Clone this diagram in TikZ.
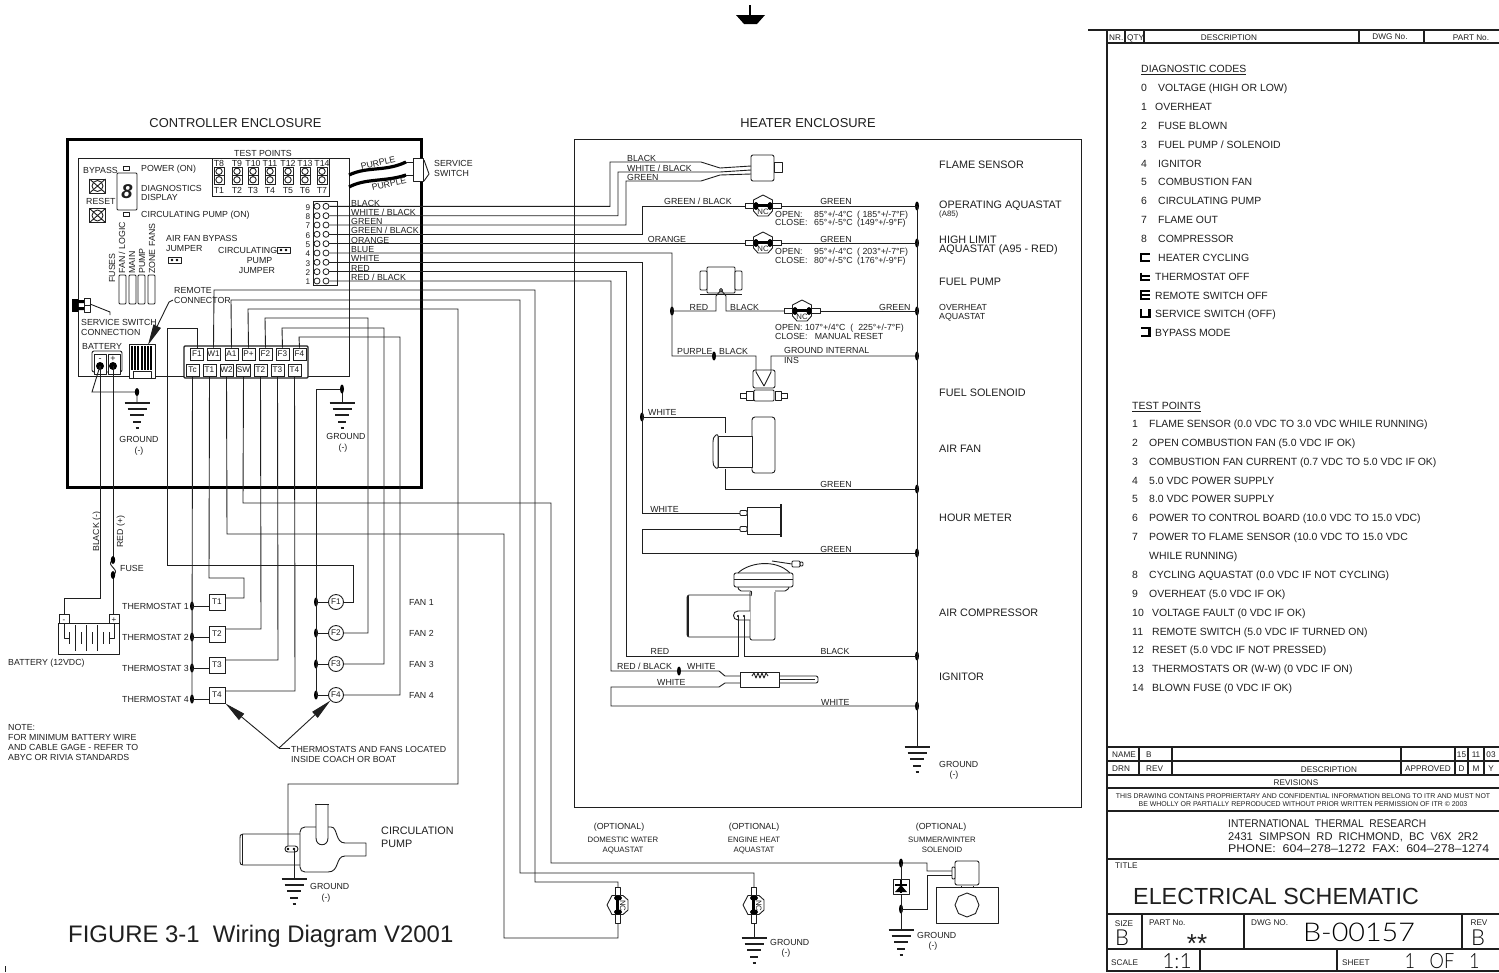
\documentclass[tikz,border=0pt]{standalone}
\usepackage{fontspec}
\setmainfont{Liberation Sans}
\newfontfamily\thinf{Lato Light}
\usetikzlibrary{arrows.meta,calc}
\definecolor{ink}{gray}{0.12}
\newcounter{tn}
\newcommand{\fs}[1]{\fontsize{#1}{#1}\selectfont}
\tikzset{
  wire/.style={draw=ink,line width=0.9pt,line join=miter},
  part/.style={draw=ink,line width=0.9pt,line join=round},
  thick wall/.style={draw=black,line width=3pt},
  rule/.style={draw=ink,line width=1.1pt},
  txt/.style={anchor=west,inner sep=0pt,text=ink,font=\fs{8.8},text height=6.3pt,text depth=0pt,yshift=-0.8pt},
  sm/.style={txt,font=\fs{7.8},text height=5.6pt},
  big/.style={txt,font=\fs{10.8},text height=7.8pt},
  lst/.style={txt,font=\fs{10.45},text height=7.6pt},
  cc/.style={txt,anchor=center},
  ccsm/.style={sm,anchor=center},
  cad/.style={txt,font=\fs{8.2},text height=5.9pt},
  ccad/.style={cad,anchor=center},
  thn/.style={txt,anchor=center,text=black},
  tbox/.style={draw=ink,line width=0.9pt,fill=white,minimum width=13pt,minimum height=12pt,inner sep=0pt,font=\fs{8.2},text=ink},
  tstat/.style={tbox,minimum width=16pt,minimum height=16pt},
  fcirc/.style={draw=ink,line width=0.9pt,fill=white,circle,minimum size=15pt,inner sep=0pt,font=\fs{8.2},text=ink},
  pinc/.style={draw=ink,line width=0.8pt,fill=white,circle,minimum size=6pt,inner sep=0pt},
  bigtip/.style={-{Triangle[length=21pt,width=8pt]}},
}
\newcommand{\Tx}[4][txt]{\stepcounter{tn}\node[#1] (t\arabic{tn}) at (#2,#3) {#4};}
\newcommand{\jn}[3]{\coordinate (#1) at (#2,#3);\fill[black] (#1) ellipse [x radius=2pt,y radius=4.5pt];}
\newcommand{\gnd}[2]{\begin{scope}[shift={(#1,#2)}]
  \draw[rule] (-12.5,0)--(12.5,0) (-9.5,6)--(9.5,6) (-7,12)--(7,12) (-4,19)--(4,19) (-1.5,25)--(1.5,25);\end{scope}}
\newcommand{\aquastat}[5]{\begin{scope}[shift={(#1,#2)},rotate=#3]
  \draw[part,fill=white] (0,-11)--(9.5,-6)--(9.5,5)--(5,10)--(-5,10)--(-9.5,5)--(-9.5,-6)--cycle;
  \draw[part,fill=white] (-18,-2.5) rectangle (-9.5,2.5);
  \draw[part,fill=white] (9.5,-2.5) rectangle (18,2.5);
  \draw[line width=2.6pt,black] (-7,-0.5)--(7,-0.5);
  \fill[black] (-7,0) ellipse [x radius=2.6pt,y radius=4pt];
  \fill[black] (7,0) ellipse [x radius=2.6pt,y radius=4pt];
  \stepcounter{tn}\node[sm,anchor=center,rotate=#4,yshift=0pt] (t\arabic{tn}) at (0,#5) {NC};
\end{scope}}
\newcommand{\cellx}[2]{\draw[part] (#1-8,#2-7) rectangle (#1+8,#2+7);\draw[part] (#1-8,#2-7)--(#1+8,#2+7) (#1-8,#2+7)--(#1+8,#2-7);\draw[part] (#1,#2) circle (5.5pt);}
\newcommand{\seg}[1]{\draw[black,line width=2.2pt,line cap=butt] #1;}
\begin{document}
\begin{tikzpicture}[x=1pt,y=-1pt]
\useasboundingbox (0,0) rectangle (1499,972);
\fill[white] (0,0) rectangle (1499,972);

% ---- top symbol
\draw[line width=2.5pt,black] (750,5)--(750,15);
\fill[black] (736,15)--(765,15)--(757,24)--(744,24)--cycle;
\draw[line width=0.8pt,ink] (5,966)--(5,972);

% ---- headings
\Tx[big,font=\fs{12.9},text height=9.3pt,anchor=center]{235.5}{122}{CONTROLLER ENCLOSURE}
\Tx[big,font=\fs{12.9},text height=9.3pt,anchor=center]{808}{122}{HEATER ENCLOSURE}

% ---- enclosures
\draw[thick wall] (67,139) rectangle (421,487);
\draw[wire] (574,139) rectangle (1081,807);
\draw[wire] (184,376)--(78,376)--(78,158)--(349,158)--(349,376)--(308,376);

% ---- test points
\Tx[cc]{263}{153}{TEST POINTS}
\draw[wire,fill=white] (212,158) rectangle (329,196);
\foreach \tx/\nu/\nl in {219/T8/T1,237/T9/T2,253/T10/T3,270/T11/T4,288/T12/T5,305/T13/T6,322/T14/T7}{
  \node[cc] (tp\nu) at (\tx,163) {\nu};
  \node[cc] (tp\nl) at (\tx,190) {\nl};
  \draw[part] (\tx-5,167) rectangle (\tx+5,184) (\tx-5,175.5)--(\tx+5,175.5);
  \draw[part] (\tx,171.3) circle (3.2pt) (\tx,179.8) circle (3.2pt);
}

% ---- board left
\Tx{83}{170}{BYPASS}
\draw[part] (123,166) rectangle (129,170);
\Tx{141}{168}{POWER (ON)}
\cellx{97.5}{186}
\Tx{86}{201}{RESET}
\cellx{97.5}{215.5}
\draw[part,rounded corners=1pt] (117,173) rectangle (137,210);
\Tx[txt,font=\fs{20}\bfseries\itshape,anchor=center,text height=14pt]{127}{191}{8}
\draw[part] (123,212) rectangle (129,216);
\Tx{141}{187.5}{DIAGNOSTICS}
\Tx{141}{196.5}{DISPLAY}
\Tx{141}{214}{CIRCULATING PUMP (ON)}
\Tx[txt,rotate=90,anchor=west]{112}{282}{FUSES}
\Tx[txt,rotate=90,anchor=west]{122}{273}{FAN / LOGIC}
\Tx[txt,rotate=90,anchor=west]{132}{273}{MAIN}
\Tx[txt,rotate=90,anchor=west]{142}{273}{PUMP}
\Tx[txt,rotate=90,anchor=west]{152}{273}{ZONE FANS}
\foreach \fx in {119,129,138,148}{\draw[part,rounded corners=1pt] (\fx,275) rectangle (\fx+7,304);}
\Tx{166}{238}{AIR FAN BYPASS}
\Tx{166}{248}{JUMPER}
\draw[part] (168,257) rectangle (181,263);
\fill[black] (172,260) circle (1.3pt) (177,260) circle (1.3pt);
\Tx{218}{250}{CIRCULATING}
\draw[part] (277,247) rectangle (290,253);
\fill[black] (281,250) circle (1.3pt) (286,250) circle (1.3pt);
\Tx[cc]{259.5}{260}{PUMP}
\Tx[cc]{257}{270}{JUMPER}
\Tx{174}{290}{REMOTE}
\Tx{174}{300}{CONNECTOR}

% ---- pin block and wires out
\draw[wire] (313,201) rectangle (337,285);
\foreach \n/\py/\ly/\lab in {9/206.3/202.5/{BLACK},8/215.7/212/{WHITE / BLACK},7/225/221/{GREEN},6/234.3/230/{GREEN / BLACK},5/243.7/239.5/{ORANGE},4/253/249/{BLUE},3/262.3/258/{WHITE},2/271.7/267.5/{RED},1/281/276.5/{RED / BLACK}}{
  \node[cc,font=\fs{8.2}] (pn\n) at (308,\py) {\n};
  \node[pinc] (pa\n) at (317,\py) {};
  \node[pinc] (p\n) at (326,\py) {};
  \node[txt] (pl\n) at (351,\ly) {\lab};
}

% flame sensor
\draw[part,rounded corners=2pt,fill=white] (751,155) rectangle (774,181);
\draw[part] (774,162) rectangle (782,172);
\coordinate (fsA) at (751,166);\coordinate (fsB) at (751,170);\coordinate (fsC) at (751,174);
\draw[wire] (p9)--(610,206.3)--(610,162)--(701,162)--(720,168)--(fsA);
\draw[wire] (p8)--(618,215.7)--(618,172)--(720,172)--(fsB);
\draw[wire] (p7)--(626,225)--(626,181)--(701,181)--(720,175)--(fsC);
\Tx{627}{158}{BLACK}
\Tx{627}{168}{WHITE / BLACK}
\Tx{627}{177}{GREEN}

% bus
\coordinate (gndR) at (917,747);
\jn{b1}{917}{206}\jn{b2}{917}{243}\jn{b3}{917}{311}\jn{b4}{917}{356}\jn{b5}{917}{489}\jn{b6}{917}{553}\jn{b7}{917}{656}\jn{b8}{917}{706}
\draw[wire] (b1)--(gndR);
\gnd{917}{747}
\Tx{939}{764}{GROUND}
\Tx[cc]{954}{774}{(-)}

% aquastats
\coordinate (aq1) at (763,206);\coordinate (aq2) at (763,243);\coordinate (aq3) at (802,311);
\draw[wire] (p6)--(642,234.3)--(642,206)--(745,206);
\draw[wire] (781,206)--(b1);
\draw[wire] (p5)--(745,243.7);
\draw[wire] (781,243)--(b2);
\aquastat{763}{206}{0}{0}{5}
\aquastat{763}{243}{0}{0}{5}
\Tx{664}{201}{GREEN / BLACK}
\Tx[cc]{836}{201}{GREEN}
\Tx[cc]{667}{239}{ORANGE}
\Tx[cc]{836}{239}{GREEN}
\Tx{775}{214}{OPEN:}\Tx{814}{214}{85°+/-4°C}\Tx{857}{214}{( 185°+/-7°F)}
\Tx{775}{222}{CLOSE:}\Tx{814}{222}{65°+/-5°C}\Tx{857}{222}{(149°+/-9°F)}
\Tx{775}{251}{OPEN:}\Tx{814}{251}{95°+/-4°C}\Tx{857}{251}{( 203°+/-7°F)}
\Tx{775}{260}{CLOSE:}\Tx{814}{260}{80°+/-5°C}\Tx{857}{260}{(176°+/-9°F)}

% fuel pump / overheat
\jn{jBlue}{672}{311}
\draw[part,fill=white,rounded corners=1pt] (707,267) rectangle (735,293);
\draw[part,fill=white,rounded corners=1pt] (700,271) rectangle (707,290);
\draw[part,fill=white,rounded corners=1pt] (735,271) rectangle (742,290);
\draw[line width=1.4pt,ink] (700,294.5)--(742,294.5);
\coordinate (fpT) at (721,290);
\draw[wire] (jBlue)--(716,311)--(716,296)--(fpT)--(726,296)--(726,311)--(784,311);
\draw[wire] (820,311)--(b3);
\aquastat{802}{311}{0}{0}{5}
\draw[part,fill=white] (fpT) circle (1.6pt);
\Tx[cc]{699}{307}{RED}
\Tx{730}{307}{BLACK}
\Tx{879}{307}{GREEN}
\Tx{775}{327}{OPEN: 107°+/4°C\ \ (\ \ 225°+/-7°F)}
\Tx{775}{336}{CLOSE:\ \ \ MANUAL RESET}

% fuel solenoid
\jn{jPur}{714}{356}
\coordinate (blueTop) at (672,253);
\draw[wire] (p4)--(blueTop)--(672,356)--(756,356)--(756,372)--(764,386);
\draw[wire] (b4)--(771,356)--(771,372)--(764,386);
\draw[part,rounded corners=2pt] (753,370) rectangle (775,388);
\draw[part,rounded corners=1pt,fill=white] (754,390) rectangle (774,401);
\draw[part,fill=white] (746,391) rectangle (753,400) (740,393) rectangle (746,398);
\draw[part,fill=white] (775,391) rectangle (781,400) (781,393) rectangle (787,398);
\Tx{677}{351}{PURPLE}
\Tx{719}{351}{BLACK}
\Tx{784}{350}{GROUND INTERNAL}
\Tx{784}{360}{INS}

% air fan
\jn{jWh}{642}{417}
\draw[wire] (p3)--(642,262.3)--(642,513)--(740,513);
\draw[wire] (jWh)--(725,417)--(725,433);
\draw[wire] (725,469)--(725,489)--(b5);
\draw[part,rounded corners=3pt,fill=white] (752,417) rectangle (775,473);
\draw[part,fill=white] (718,436) rectangle (752,467);
\draw[part,rounded corners=2pt,fill=white] (718,434)--(714,436)--(713,440)--(713,463)--(714,467)--(718,469)--cycle;
\Tx{648}{412}{WHITE}
\Tx[cc]{836}{484}{GREEN}

% hour meter
\draw[part] (747,507) rectangle (781,534);
\draw[line width=1.8pt,ink] (781,504)--(781,537);
\draw[part,rounded corners=1pt,fill=white] (740,510.5) rectangle (747,515.5);
\draw[part,rounded corners=1pt,fill=white] (740,526.5) rectangle (747,531.5);
\draw[wire] (740,529)--(642,529)--(642,553)--(b6);
\Tx[cc]{664.5}{509}{WHITE}
\Tx[cc]{836}{549}{GREEN}

% compressor
\draw[part,rounded corners=1pt] (750,595)--(688,595)--(687,597)--(687,635)--(688,637)--(750,637);
\draw[line width=1.6pt,ink] (688,596)--(688,636);
\draw[part,rounded corners=2pt] (750,592)--(750,640)--(775,640)--(775,592);
\draw[part,rounded corners=2pt] (738,587)--(739,591)--(752,591)--(751,596);
\draw[part,rounded corners=2pt] (775,591)--(787,591)--(789,587);
\draw[part,rounded corners=2pt] (734,573) rectangle (793,587);
\draw[part] (734,579)--(793,579);
\draw[part] (738,573) .. controls (748,563) and (775,558) .. (790,573);
\draw[part] (772,561)--(792,564);
\draw[part,rounded corners=1pt] (792,561) rectangle (800,567);
\draw[part,rounded corners=1pt] (800,562) rectangle (803,566);
\draw[part,fill=white] (750,611)--(738,611) .. controls (732,611) and (732,620) .. (738,620)--(750,620);
\coordinate (cmpA) at (738,616);\coordinate (cmpB) at (744,616);
\fill[black] (cmpA) circle (1.2pt) (cmpB) circle (1.2pt);
\draw[wire] (p2)--(626,271.7)--(626,656)--(738,656)--(cmpA);
\draw[wire] (cmpB)--(744,656)--(b7);
\Tx[cc]{660}{651}{RED}
\Tx[cc]{835}{651}{BLACK}

% ignitor
\draw[part] (740,672) rectangle (779,687);
\draw[part,rounded corners=2pt] (779,676)--(818,676)--(818,683)--(779,683);
\draw[part] (779,679.5)--(815,679.5);
\draw[part] (752,676)--(754,673)--(756,678)--(758,673)--(760,678)--(762,673)--(764,678)--(766,673)--(768,676);
\jn{jRb}{679}{671}
\draw[wire] (p1)--(611,281)--(611,671)--(719,671)--(725,676)--(740,676);
\draw[wire] (740,683)--(725,683)--(719,687)--(611,687)--(611,706)--(b8);
\Tx{617}{666}{RED / BLACK}
\Tx{687}{666}{WHITE}
\Tx{657}{682}{WHITE}
\Tx{821}{702}{WHITE}

% heater right labels
\Tx[big]{939}{163.5}{FLAME SENSOR}
\Tx[big]{939}{203.5}{OPERATING AQUASTAT}
\Tx[sm]{939}{213}{(A85)}
\Tx[big]{939}{238.5}{HIGH LIMIT}
\Tx[big]{939}{247.5}{AQUASTAT (A95 - RED)}
\Tx[big]{939}{280.5}{FUEL PUMP}
\Tx[txt]{939}{307}{OVERHEAT}
\Tx[txt]{939}{316}{AQUASTAT}
\Tx[big]{939}{391.5}{FUEL SOLENOID}
\Tx[big]{939}{447.5}{AIR FAN}
\Tx[big]{939}{516.5}{HOUR METER}
\Tx[big]{939}{611.5}{AIR COMPRESSOR}
\Tx[big]{939}{675.5}{IGNITOR}

% ---- service switch and purple leads
\draw[part,fill=white] (413,158) rectangle (423,181);
\draw[part] (424,160)--(429,174)--(424,181);
\draw[line width=3.2pt,black] (349,175) .. controls (368,166) and (385,172) .. (406,162);
\draw[line width=3.2pt,black] (349,187) .. controls (366,178) and (385,182) .. (406,175);
\draw[wire] (406,162)--(413,162) (406,175)--(413,175);
\Tx[cc,rotate=13]{378}{162}{PURPLE}
\Tx[cc,rotate=13]{389}{183}{PURPLE}
\Tx{434}{163}{SERVICE}
\Tx{434}{173}{SWITCH}

% ---- service connection
\fill[black] (72,299) rectangle (78,312);
\fill[black] (78,300) rectangle (84,303) (78,307) rectangle (84,310);
\draw[part,fill=white] (84,298) rectangle (90,312) (84,305)--(90,305);
\coordinate (scA) at (90,304);
\draw[wire] (scA)--(110,312)--(110,315);
\Tx{81}{322}{SERVICE SWITCH}
\Tx{81}{332}{CONNECTION}
\Tx{82}{346}{BATTERY}

% ---- battery terminals on board
\draw[part,rounded corners=2pt,fill=white] (92,351) rectangle (122,372);
\draw[part,fill=white] (94,354) rectangle (106,374);
\draw[part,fill=white] (108,354) rectangle (120,374);
\Tx[cc,font=\fs{9}]{100}{358}{-}
\Tx[cc,font=\fs{9}]{113}{358}{+}
\coordinate (bN) at (100,366);\coordinate (bP) at (113,366);
\fill[black] (bN) circle (4pt) (bP) circle (4pt);

% ---- remote connector block
\draw[part,fill=white] (129,344) rectangle (155,378);
\foreach \sx in {132,135.2,...,153}{\draw[line width=2pt,black] (\sx,346)--(\sx,370);}
\draw[part,fill=white] (133,371) rectangle (151,378);
\coordinate (rcTip) at (148,345);\coordinate (rcEl) at (169,302);\coordinate (rcTx) at (173,300);
\draw[wire,bigtip] (rcTx)--(rcEl)--(rcTip);

% ---- terminal block
\draw[line width=1.3pt,ink,rounded corners=1pt,fill=white] (184,346) rectangle (308,378);
\foreach \nm/\tx in {F1/197,W1/213.5,A1/231.5,P+/248.5,F2/265.5,F3/282.5,F4/299.5}{\node[tbox] (c\nm) at (\tx,354) {\nm};}
\foreach \nm/\tx in {Tc/192.5,T1/209.5,W2/226.5,SW/243.5,T2/260.5,T3/277.5,T4/294.5}{\node[tbox] (b\nm) at (\tx,370) {\nm};}

% ---- thermostats and fans
\foreach \nm/\ty/\ly in {1/602/606,2/634/637,3/665/668,4/695/699}{
  \node[tstat] (TS\nm) at (217,\ty) {T\nm};
  \node[txt] (tl\nm) at (122,\ly) {THERMOSTAT \nm};
  \jn{tj\nm}{192}{\ly}
  \draw[wire] (tj\nm)--(209,\ly);
}
\foreach \nm/\ty in {1/602,2/633,3/664,4/695}{
  \node[fcirc] (FC\nm) at (336,\ty) {F\nm};
  \node[txt] (fl\nm) at (409,\ty) {FAN \nm};
  \jn{fj\nm}{316}{\ty}
  \draw[wire] (fj\nm)--(FC\nm);
}
\draw[wire] (cF1.north)--(197,328)--(167,328)--(167,565)--(353,565)--(353,602)--(FC1);
\draw[wire] (cW1.north)--(214,290)--(535,290)--(535,882)--(618,882)--(618,889);
\draw[wire] (cA1.north)--(231,300)--(520,300)--(520,873)--(754,873)--(754,887);
\draw[wire] (cP+.north)--(248,309)--(458,309)--(458,784)--(288,784)--(288,849);
\draw[wire] (cF2.north)--(265,318)--(368,318)--(368,633)--(FC2);
\draw[wire] (cF3.north)--(282,328)--(384,328)--(384,664)--(FC3);
\draw[wire] (cF4.north)--(299,337)--(400,337)--(400,695)--(FC4);
\draw[wire] (bTc.south)--(192,703);
\draw[wire] (bT1.south)--(209,578)--(244,578)--(244,598)--(225,598);
\draw[wire] (bT2.south)--(261,629)--(225,629);
\draw[wire] (bT3.south)--(278,660)--(225,660);
\draw[wire] (bT4.south)--(295,691)--(225,691);
\draw[wire] (bW2.south)--(227,534)--(504,534)--(504,938)--(618,938)--(618,923);
\draw[wire] (bSW.south)--(243,503)--(551,503)--(551,863)--(927,863)--(927,871)--(952,871);
\draw[wire] (316,389)--(fj4);
\coordinate (ngJ) at (342,389);
\draw[wire] (316,389)--(ngJ)--(342,403);
\fill[black] (ngJ) ellipse [x radius=2pt,y radius=4.5pt];
\gnd{342}{403}
\Tx[cc]{346}{436}{GROUND}
\Tx[cc]{343}{447}{(-)}

% on-board negative ground, battery leads
\coordinate (pgJ) at (137,392);
\draw[wire] (bN)--(92,392)--(pgJ)--(137,403);
\fill[black] (pgJ) ellipse [x radius=2.2pt,y radius=4pt];
\gnd{137}{403}
\Tx[cc]{139}{439}{GROUND}
\Tx[cc]{139}{450}{(-)}

\coordinate (batN) at (64,614);\coordinate (batP) at (114,614);
\draw[wire] (bN)--(100,598)--(64,598)--(batN);
\coordinate (fuA) at (113,560);\coordinate (fuB) at (113,575);
\draw[wire] (bP)--(fuA);
\draw[wire] (fuA) .. controls (104,565) and (122,570) .. (fuB);
\draw[wire] (fuB)--(113,614);
\fill[black] (fuA) ellipse [x radius=2.2pt,y radius=4pt] (fuB) ellipse [x radius=2.2pt,y radius=4pt];
\Tx[cc,rotate=90]{96}{531}{BLACK (-)}
\Tx[cc,rotate=90]{120}{531}{RED (+)}
\Tx{120}{568}{FUSE}

% battery
\draw[part] (58,623) rectangle (119,654);
\draw[part,fill=white] (59,614) rectangle (69,623);
\draw[part,fill=white] (109,614) rectangle (119,623);
\Tx[cc,font=\fs{8}]{64}{618.5}{-}
\Tx[cc,font=\fs{8}]{114}{618.5}{+}
\draw[part] (64,623)--(64,638)--(69,638);
\draw[part] (114,623)--(114,638)--(109,638);
\foreach \px/\h in {69/6,75/13,81/6,86/13,92/6,97/13,103/6,109/6}{\draw[part] (\px,638-\h)--(\px,638+\h);}
\Tx{8}{662}{BATTERY (12VDC)}

% note
\Tx{8}{727}{NOTE:}
\Tx{8}{737}{FOR MINIMUM BATTERY WIRE}
\Tx{8}{747}{AND CABLE GAGE - REFER TO}
\Tx{8}{757}{ABYC OR RIVIA STANDARDS}

% location arrows
\coordinate (locJ) at (279,748);\coordinate (locT) at (290,748);
\draw[wire,bigtip] (locJ)--(TS4.south east);
\draw[wire,bigtip] (locJ)--(FC4.south west);
\draw[wire] (locJ)--(locT);
\Tx{291}{749}{THERMOSTATS AND FANS LOCATED}
\Tx{291}{759}{INSIDE COACH OR BOAT}

% ---- circulation pump
\draw[part] (300,834)--(243,834) .. controls (240,834) and (240,836) .. (240,838)--(240,862) .. controls (240,864) and (241,865) .. (243,865)--(300,865);
\draw[part] (242,834)--(242,865);
\draw[part,fill=white] (300,832) .. controls (300,829) and (302,827) .. (305,827)--(331,827) .. controls (338,827) and (335,843) .. (345,843)--(366,843)--(366,856)--(345,856) .. controls (335,856) and (340,872) .. (328,872)--(305,872) .. controls (302,872) and (300,870) .. (300,867)--cycle;
\draw[part,fill=white] (316,804) -- (316,838) .. controls (316,847) and (328,847) .. (328,838) -- (328,804);
\draw[part] (315,804)--(329,804);
\draw[part,fill=white,rounded corners=3pt] (285,846) rectangle (298,852);
\fill[black] (288,849) circle (1.3pt) (294,849) circle (1.3pt);
\coordinate (cpG) at (294,879);
\draw[wire] (294,849)--(cpG);
\gnd{294}{879}
\Tx{310}{886}{GROUND}
\Tx[cc]{326}{897}{(-)}
\Tx[big]{381}{830}{CIRCULATION}
\Tx[big]{381}{843}{PUMP}
\Tx[txt,font=\fs{23.9},text height=17pt]{68}{933.5}{FIGURE 3-1\ \ Wiring Diagram V2001}

% ---- optional devices
\Tx[cc]{619}{826}{(OPTIONAL)}
\Tx[ccsm]{623}{839}{DOMESTIC WATER}
\Tx[ccsm]{623}{849}{AQUASTAT}
\Tx[cc]{754}{826}{(OPTIONAL)}
\Tx[ccsm]{754}{839}{ENGINE HEAT}
\Tx[ccsm]{754}{849}{AQUASTAT}
\Tx[cc]{941}{826}{(OPTIONAL)}
\Tx[ccsm]{942}{839}{SUMMER/WINTER}
\Tx[ccsm]{942}{849}{SOLENOID}
\aquastat{618}{905}{90}{-90}{5}
\aquastat{754}{905}{90}{-90}{5}
\coordinate (g2) at (754,938);
\draw[wire] (754,923)--(g2);
\gnd{754}{938}
\Tx{770}{942}{GROUND}
\Tx[cc]{786}{952}{(-)}

% summer/winter solenoid
\jn{sj1}{901}{863}\jn{sj2}{901}{909}
\coordinate (g3) at (901,930);
\draw[wire] (sj1)--(g3);
\draw[wire] (952,875)--(927,875)--(927,909)--(sj2);
\draw[part,fill=white] (893,879) rectangle (909,894);
\draw[line width=1.2pt,black] (895,885)--(907,885) (901,880)--(901,893);
\fill[black] (901,885)--(907,892)--(895,892)--cycle;
\gnd{901}{930}
\Tx{917}{935}{GROUND}
\Tx[cc]{933}{945}{(-)}
\draw[part,rounded corners=2pt] (955,861) rectangle (979,885);
\draw[part,rounded corners=1pt,fill=white] (952,867) rectangle (955,879);
\draw[part] (936,887) rectangle (998,923);
\draw[part] (961,887)--(961,885.5) (973,887)--(973,885.5);
\draw[part] (967,893)--(975.5,896.5)--(979,905)--(975.5,913.5)--(967,917)--(958.5,913.5)--(955,905)--(958.5,896.5)--cycle;

% ---- right panel
\draw[rule] (1088,30)--(1499,30);
\draw[rule] (1107,43)--(1499,43);
\draw[line width=1.5pt,ink] (1107,30)--(1107,972);
\draw[rule] (1125,30)--(1125,43) (1144,30)--(1144,43) (1359,30)--(1359,43) (1424,30)--(1424,43);
\Tx[cad]{1109}{37}{NR.}
\Tx[cad]{1127}{37}{QTY}
\Tx[ccad]{1229}{37}{DESCRIPTION}
\Tx[ccad]{1390}{36}{DWG No.}
\Tx[ccad]{1471}{37}{PART No.}

\Tx[lst]{1141}{68}{\underline{DIAGNOSTIC CODES}}
\foreach \yy/\nn/\xx/\ll in {87/0/1158/{VOLTAGE (HIGH OR LOW)},106/1/1155/{OVERHEAT},125/2/1158/{FUSE BLOWN},144/3/1158/{FUEL PUMP / SOLENOID},163/4/1158/{IGNITOR},181/5/1158/{COMBUSTION FAN},200/6/1158/{CIRCULATING PUMP},219/7/1158/{FLAME OUT},238/8/1158/{COMPRESSOR}}{
  \node[lst] (dn\nn) at (1141,\yy) {\nn};
  \node[lst] (dl\nn) at (\xx,\yy) {\ll};
}
\seg{(1149.5,254)--(1141,254)--(1141,261)--(1149.5,261)}
\Tx[lst]{1158}{257}{HEATER CYCLING}
\seg{(1141,272.5)--(1141,280)--(1149.5,280) (1141,276)--(1149.5,276)}
\Tx[lst]{1155}{276}{THERMOSTAT OFF}
\seg{(1149.5,291)--(1141,291)--(1141,299)--(1149.5,299) (1141,295)--(1149.5,295)}
\Tx[lst]{1155}{295}{REMOTE SWITCH OFF}
\seg{(1141,309)--(1141,317)--(1149.5,317)--(1149.5,309)}
\Tx[lst]{1155}{313}{SERVICE SWITCH (OFF)}
\seg{(1141,328)--(1149.5,328)--(1149.5,336)--(1141,336)}
\Tx[lst]{1155}{332}{BYPASS MODE}

\Tx[lst]{1132}{405}{\underline{TEST POINTS}}
\foreach \yy/\nn/\xx/\ll in {423/1/1149/{FLAME SENSOR (0.0 VDC TO 3.0 VDC WHILE RUNNING)},442/2/1149/{OPEN COMBUSTION FAN (5.0 VDC IF OK)},461/3/1149/{COMBUSTION FAN CURRENT (0.7 VDC TO 5.0 VDC IF OK)},480/4/1149/{5.0 VDC POWER SUPPLY},498/5/1149/{8.0 VDC POWER SUPPLY},517/6/1149/{POWER TO CONTROL BOARD (10.0 VDC TO 15.0 VDC)},536/7/1149/{POWER TO FLAME SENSOR (10.0 VDC TO 15.0 VDC},574/8/1149/{CYCLING AQUASTAT (0.0 VDC IF NOT CYCLING)},593/9/1149/{OVERHEAT (5.0 VDC IF OK)},612/10/1152/{VOLTAGE FAULT (0 VDC IF OK)},631/11/1152/{REMOTE SWITCH (5.0 VDC IF TURNED ON)},649/12/1152/{RESET (5.0 VDC IF NOT PRESSED)},668/13/1152/{THERMOSTATS OR (W-W) (0 VDC IF ON)},687/14/1152/{BLOWN FUSE (0 VDC IF OK)}}{
  \node[lst] (tpn\nn) at (1132,\yy) {\nn};
  \node[lst] (tpl\nn) at (\xx,\yy) {\ll};
}
\Tx[lst]{1149}{555}{WHILE RUNNING)}

% ---- title block
\draw[rule] (1107,747)--(1499,747) (1107,761)--(1499,761) (1107,775)--(1499,775) (1107,788)--(1499,788) (1107,811)--(1499,811) (1107,859)--(1499,859) (1107,914)--(1499,914) (1107,949)--(1499,949) (1107,971)--(1499,971);
\draw[rule] (1139,747)--(1139,775) (1172,747)--(1172,775) (1401,747)--(1401,775) (1455,747)--(1455,775) (1468,747)--(1468,775) (1484,747)--(1484,775);
\Tx[cad]{1112}{754}{NAME}
\Tx[cad]{1146}{754}{B}
\Tx[cad]{1112}{768}{DRN}
\Tx[cad]{1146}{768}{REV}
\Tx[ccad]{1329}{769}{DESCRIPTION}
\Tx[ccad]{1428}{768}{APPROVED}
\Tx[ccad]{1461.5}{754}{15}
\Tx[ccad]{1476}{754}{11}
\Tx[ccad]{1491}{754}{03}
\Tx[ccad]{1461.5}{768}{D}
\Tx[ccad]{1476}{768}{M}
\Tx[ccad]{1491}{768}{Y}
\Tx[ccad]{1296}{782}{REVISIONS}
\Tx[txt,anchor=center,font=\fs{6.95},text height=5pt]{1303}{795}{THIS DRAWING CONTAINS PROPRIERTARY AND CONFIDENTIAL INFORMATION BELONG TO ITR AND MUST NOT}
\Tx[txt,anchor=center,font=\fs{6.95},text height=5pt]{1303}{803}{BE WHOLLY OR PARTIALLY REPRODUCED WITHOUT PRIOR WRITTEN PERMISSION OF ITR © 2003}
\Tx[txt,font=\fs{11},text height=8pt]{1228}{823}{\resizebox{198pt}{7.8pt}{INTERNATIONAL\ \ THERMAL\ \ RESEARCH}}
\Tx[txt,font=\fs{11},text height=8pt]{1228}{836}{\resizebox{250pt}{7.8pt}{2431\ \ SIMPSON\ \ RD\ \ RICHMOND,\ \ BC\ \ V6X\ \ 2R2}}
\Tx[txt,font=\fs{11},text height=8pt]{1228}{848}{\resizebox{261pt}{7.8pt}{PHONE:\ \ 604–278–1272\ \ FAX:\ \ 604–278–1274}}
\Tx[cad]{1115}{865}{TITLE}
\Tx[txt,font=\fs{23.3},text height=17pt]{1133}{895}{ELECTRICAL SCHEMATIC}
\draw[rule] (1142,914)--(1142,949) (1244,914)--(1244,949) (1462,914)--(1462,949) (1200,949)--(1200,971) (1337,949)--(1337,971);
\Tx[ccad]{1124}{923}{SIZE}
\Tx[thn,font=\fs{22}\thinf,text height=15pt]{1122}{937}{B}
\Tx[cad]{1149}{922}{PART No.}
\Tx[txt,anchor=center,font=\fs{26},text height=6pt]{1197}{940}{\raisebox{-9pt}[6pt][0pt]{**}}
\Tx[cad]{1251}{922}{DWG NO.}
\Tx[thn,font=\fs{27}\thinf,text height=19pt]{1359}{931}{\resizebox{112pt}{18.5pt}{B-00157}}
\Tx[ccad]{1479}{922}{REV}
\Tx[thn,font=\fs{22}\thinf,text height=15pt]{1478}{937}{B}
\Tx[cad]{1111}{962}{SCALE}
\Tx[thn,font=\fs{21}\thinf,text height=15pt]{1177}{960.5}{1:1}
\Tx[cad]{1342}{962}{SHEET}
\Tx[thn,font=\fs{21}\thinf,text height=15pt]{1442}{960.5}{\resizebox{75pt}{15pt}{1\ \ \ OF\ \ \ 1}}

\end{tikzpicture}
\end{document}
